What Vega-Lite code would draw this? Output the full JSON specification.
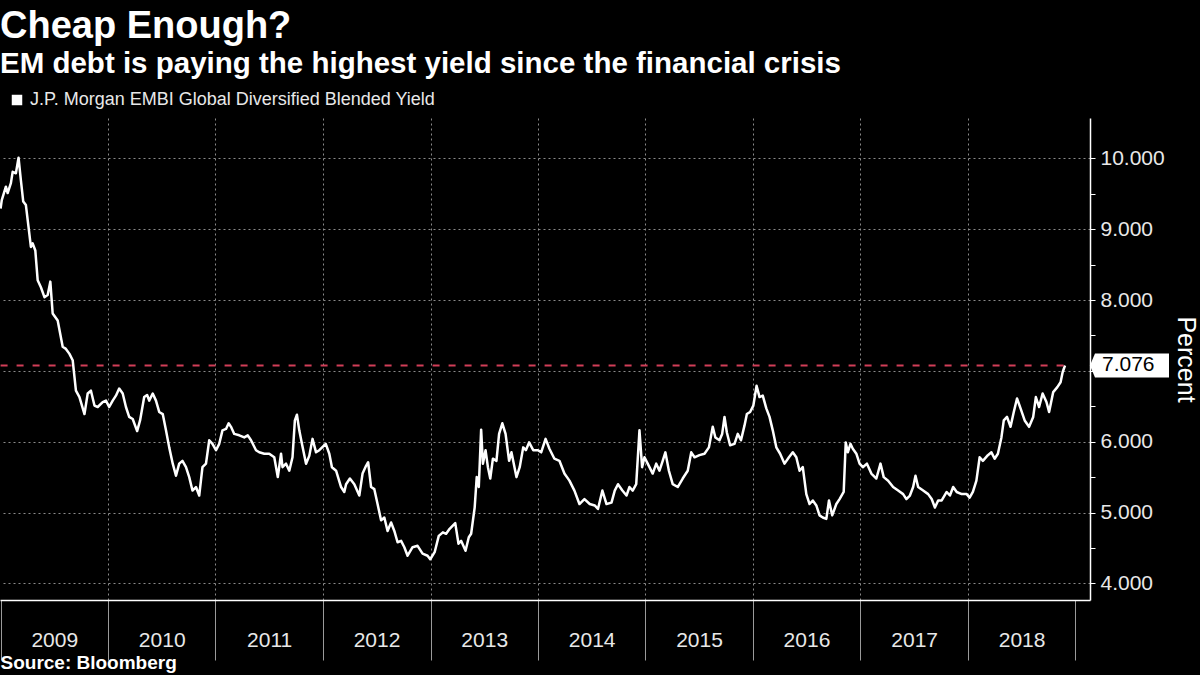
{
  "$schema": "https://vega.github.io/schema/vega-lite/v6.json",
  "width": 1090,
  "height": 482,
  "autosize": "none",
  "padding": {"left": 0, "top": 118, "right": 110, "bottom": 75},
  "background": "#000000",
  "config": {"view": {"stroke": null}, "font": "Liberation Sans"},
  "title": {
    "text": "Cheap Enough?",
    "subtitle": "EM debt is paying the highest yield since the financial crisis",
    "anchor": "start",
    "frame": "group",
    "color": "#ffffff",
    "font": "Liberation Sans",
    "fontSize": 38,
    "fontWeight": "bold",
    "subtitleColor": "#ffffff",
    "subtitleFont": "Liberation Sans",
    "subtitleFontSize": 29.5,
    "subtitleFontWeight": "bold",
    "subtitlePadding": 4,
    "offset": 13
  },
  "datasets": {
    "yield": [
      {"d": "2009-01-01", "v": 9.29}, {"d": "2009-01-05", "v": 9.41}, {"d": "2009-01-19", "v": 9.60}, {"d": "2009-01-25", "v": 9.51},
      {"d": "2009-02-05", "v": 9.65}, {"d": "2009-02-11", "v": 9.81}, {"d": "2009-02-22", "v": 9.79}, {"d": "2009-03-03", "v": 10.01},
      {"d": "2009-03-11", "v": 9.69}, {"d": "2009-03-19", "v": 9.39}, {"d": "2009-03-28", "v": 9.34}, {"d": "2009-04-06", "v": 9.03},
      {"d": "2009-04-14", "v": 8.75}, {"d": "2009-04-20", "v": 8.80}, {"d": "2009-04-29", "v": 8.70}, {"d": "2009-05-07", "v": 8.28},
      {"d": "2009-05-18", "v": 8.18}, {"d": "2009-05-30", "v": 8.04}, {"d": "2009-06-10", "v": 8.07}, {"d": "2009-06-19", "v": 8.26},
      {"d": "2009-06-27", "v": 7.81}, {"d": "2009-07-14", "v": 7.71}, {"d": "2009-07-31", "v": 7.34}, {"d": "2009-08-11", "v": 7.31},
      {"d": "2009-08-23", "v": 7.24}, {"d": "2009-09-03", "v": 7.15}, {"d": "2009-09-14", "v": 6.72}, {"d": "2009-09-26", "v": 6.63},
      {"d": "2009-10-13", "v": 6.39}, {"d": "2009-10-24", "v": 6.68}, {"d": "2009-11-04", "v": 6.72}, {"d": "2009-11-16", "v": 6.51},
      {"d": "2009-11-27", "v": 6.49}, {"d": "2009-12-14", "v": 6.56}, {"d": "2009-12-25", "v": 6.58},
      {"d": "2010-01-05", "v": 6.49}, {"d": "2010-01-17", "v": 6.58}, {"d": "2010-01-28", "v": 6.65}, {"d": "2010-02-08", "v": 6.75},
      {"d": "2010-02-20", "v": 6.68}, {"d": "2010-03-03", "v": 6.49}, {"d": "2010-03-14", "v": 6.35}, {"d": "2010-03-26", "v": 6.32},
      {"d": "2010-04-10", "v": 6.15}, {"d": "2010-04-20", "v": 6.30}, {"d": "2010-05-04", "v": 6.63}, {"d": "2010-05-14", "v": 6.66},
      {"d": "2010-05-21", "v": 6.58}, {"d": "2010-06-02", "v": 6.68}, {"d": "2010-06-13", "v": 6.58}, {"d": "2010-06-24", "v": 6.42},
      {"d": "2010-07-06", "v": 6.39}, {"d": "2010-07-17", "v": 6.16}, {"d": "2010-07-28", "v": 5.92}, {"d": "2010-08-09", "v": 5.69},
      {"d": "2010-08-20", "v": 5.52}, {"d": "2010-08-31", "v": 5.69}, {"d": "2010-09-11", "v": 5.73}, {"d": "2010-09-23", "v": 5.64},
      {"d": "2010-10-04", "v": 5.50}, {"d": "2010-10-15", "v": 5.31}, {"d": "2010-10-27", "v": 5.36}, {"d": "2010-11-07", "v": 5.24},
      {"d": "2010-11-18", "v": 5.64}, {"d": "2010-11-30", "v": 5.69}, {"d": "2010-12-11", "v": 6.02}, {"d": "2010-12-22", "v": 5.97},
      {"d": "2011-01-03", "v": 5.88}, {"d": "2011-01-14", "v": 5.97}, {"d": "2011-01-25", "v": 6.16}, {"d": "2011-02-06", "v": 6.18},
      {"d": "2011-02-15", "v": 6.26}, {"d": "2011-02-23", "v": 6.21}, {"d": "2011-03-06", "v": 6.11}, {"d": "2011-03-23", "v": 6.09},
      {"d": "2011-04-09", "v": 6.06}, {"d": "2011-04-21", "v": 6.09}, {"d": "2011-05-02", "v": 6.02}, {"d": "2011-05-19", "v": 5.88},
      {"d": "2011-05-30", "v": 5.85}, {"d": "2011-06-16", "v": 5.83}, {"d": "2011-07-03", "v": 5.83}, {"d": "2011-07-20", "v": 5.78},
      {"d": "2011-08-01", "v": 5.50}, {"d": "2011-08-12", "v": 5.83}, {"d": "2011-08-17", "v": 5.64}, {"d": "2011-08-29", "v": 5.69},
      {"d": "2011-09-09", "v": 5.59}, {"d": "2011-09-20", "v": 5.78}, {"d": "2011-09-28", "v": 6.30}, {"d": "2011-10-05", "v": 6.38},
      {"d": "2011-10-13", "v": 6.16}, {"d": "2011-10-22", "v": 5.97}, {"d": "2011-11-05", "v": 5.69}, {"d": "2011-11-16", "v": 5.80},
      {"d": "2011-11-27", "v": 6.04}, {"d": "2011-12-09", "v": 5.85}, {"d": "2011-12-20", "v": 5.88},
      {"d": "2012-01-11", "v": 5.97}, {"d": "2012-01-23", "v": 5.83}, {"d": "2012-02-01", "v": 5.64}, {"d": "2012-02-15", "v": 5.59},
      {"d": "2012-03-03", "v": 5.36}, {"d": "2012-03-14", "v": 5.29}, {"d": "2012-03-20", "v": 5.40}, {"d": "2012-04-02", "v": 5.48},
      {"d": "2012-04-17", "v": 5.40}, {"d": "2012-05-04", "v": 5.24}, {"d": "2012-05-15", "v": 5.55}, {"d": "2012-05-27", "v": 5.66},
      {"d": "2012-06-03", "v": 5.71}, {"d": "2012-06-13", "v": 5.36}, {"d": "2012-06-24", "v": 5.33}, {"d": "2012-07-05", "v": 5.12},
      {"d": "2012-07-17", "v": 4.89}, {"d": "2012-07-28", "v": 4.93}, {"d": "2012-08-08", "v": 4.74}, {"d": "2012-08-20", "v": 4.86},
      {"d": "2012-08-31", "v": 4.74}, {"d": "2012-09-11", "v": 4.58}, {"d": "2012-09-23", "v": 4.60}, {"d": "2012-10-04", "v": 4.51},
      {"d": "2012-10-15", "v": 4.39}, {"d": "2012-11-01", "v": 4.51}, {"d": "2012-11-18", "v": 4.53}, {"d": "2012-12-05", "v": 4.42},
      {"d": "2012-12-22", "v": 4.39}, {"d": "2012-12-31", "v": 4.34},
      {"d": "2013-01-15", "v": 4.44}, {"d": "2013-01-29", "v": 4.67}, {"d": "2013-02-12", "v": 4.72}, {"d": "2013-02-23", "v": 4.70},
      {"d": "2013-03-07", "v": 4.77}, {"d": "2013-03-26", "v": 4.85}, {"d": "2013-04-06", "v": 4.56}, {"d": "2013-04-15", "v": 4.60},
      {"d": "2013-04-30", "v": 4.46}, {"d": "2013-05-11", "v": 4.65}, {"d": "2013-05-19", "v": 4.70}, {"d": "2013-05-31", "v": 5.07},
      {"d": "2013-06-07", "v": 5.50}, {"d": "2013-06-14", "v": 5.36}, {"d": "2013-06-22", "v": 6.17}, {"d": "2013-06-28", "v": 5.69},
      {"d": "2013-07-07", "v": 5.88}, {"d": "2013-07-15", "v": 5.64}, {"d": "2013-07-23", "v": 5.48}, {"d": "2013-08-01", "v": 5.76},
      {"d": "2013-08-13", "v": 5.73}, {"d": "2013-08-22", "v": 6.11}, {"d": "2013-09-02", "v": 6.26}, {"d": "2013-09-13", "v": 6.11},
      {"d": "2013-09-25", "v": 5.73}, {"d": "2013-10-03", "v": 5.85}, {"d": "2013-10-20", "v": 5.50}, {"d": "2013-10-31", "v": 5.64},
      {"d": "2013-11-12", "v": 5.92}, {"d": "2013-11-21", "v": 5.88}, {"d": "2013-12-02", "v": 5.99}, {"d": "2013-12-16", "v": 5.88},
      {"d": "2014-01-01", "v": 5.88}, {"d": "2014-01-12", "v": 5.85}, {"d": "2014-01-27", "v": 6.04}, {"d": "2014-02-09", "v": 5.90},
      {"d": "2014-02-26", "v": 5.76}, {"d": "2014-03-15", "v": 5.73}, {"d": "2014-04-01", "v": 5.55}, {"d": "2014-04-18", "v": 5.45},
      {"d": "2014-05-05", "v": 5.31}, {"d": "2014-05-22", "v": 5.12}, {"d": "2014-06-08", "v": 5.19}, {"d": "2014-06-26", "v": 5.12},
      {"d": "2014-07-13", "v": 5.10}, {"d": "2014-07-24", "v": 5.05}, {"d": "2014-08-08", "v": 5.31}, {"d": "2014-08-22", "v": 5.12},
      {"d": "2014-09-08", "v": 5.14}, {"d": "2014-09-19", "v": 5.31}, {"d": "2014-09-30", "v": 5.40}, {"d": "2014-10-15", "v": 5.31},
      {"d": "2014-10-29", "v": 5.24}, {"d": "2014-11-08", "v": 5.36}, {"d": "2014-11-19", "v": 5.31}, {"d": "2014-12-01", "v": 5.40},
      {"d": "2014-12-12", "v": 6.16}, {"d": "2014-12-21", "v": 5.64}, {"d": "2014-12-29", "v": 5.78},
      {"d": "2015-01-09", "v": 5.69}, {"d": "2015-01-26", "v": 5.55}, {"d": "2015-02-07", "v": 5.69}, {"d": "2015-02-18", "v": 5.59},
      {"d": "2015-03-01", "v": 5.73}, {"d": "2015-03-10", "v": 5.85}, {"d": "2015-03-22", "v": 5.59}, {"d": "2015-04-04", "v": 5.40},
      {"d": "2015-04-21", "v": 5.36}, {"d": "2015-05-08", "v": 5.48}, {"d": "2015-05-25", "v": 5.59}, {"d": "2015-06-06", "v": 5.85},
      {"d": "2015-06-17", "v": 5.78}, {"d": "2015-07-04", "v": 5.81}, {"d": "2015-07-21", "v": 5.83}, {"d": "2015-08-05", "v": 5.92},
      {"d": "2015-08-18", "v": 6.21}, {"d": "2015-08-27", "v": 6.06}, {"d": "2015-09-10", "v": 6.02}, {"d": "2015-09-19", "v": 6.11},
      {"d": "2015-09-27", "v": 6.35}, {"d": "2015-10-05", "v": 6.13}, {"d": "2015-10-16", "v": 5.95}, {"d": "2015-10-31", "v": 5.97},
      {"d": "2015-11-11", "v": 6.11}, {"d": "2015-11-22", "v": 6.02}, {"d": "2015-12-04", "v": 6.23}, {"d": "2015-12-12", "v": 6.39},
      {"d": "2015-12-23", "v": 6.42},
      {"d": "2016-01-03", "v": 6.51}, {"d": "2016-01-14", "v": 6.79}, {"d": "2016-01-24", "v": 6.63}, {"d": "2016-02-04", "v": 6.65},
      {"d": "2016-02-16", "v": 6.47}, {"d": "2016-02-27", "v": 6.35}, {"d": "2016-03-09", "v": 6.16}, {"d": "2016-03-21", "v": 5.92},
      {"d": "2016-04-03", "v": 5.83}, {"d": "2016-04-18", "v": 5.69}, {"d": "2016-05-03", "v": 5.78}, {"d": "2016-05-16", "v": 5.85},
      {"d": "2016-05-28", "v": 5.78}, {"d": "2016-06-08", "v": 5.59}, {"d": "2016-06-19", "v": 5.64}, {"d": "2016-07-01", "v": 5.26},
      {"d": "2016-07-12", "v": 5.12}, {"d": "2016-07-23", "v": 5.17}, {"d": "2016-08-04", "v": 5.10}, {"d": "2016-08-15", "v": 4.96},
      {"d": "2016-08-26", "v": 4.93}, {"d": "2016-09-07", "v": 4.91}, {"d": "2016-09-16", "v": 5.17}, {"d": "2016-09-27", "v": 4.96},
      {"d": "2016-10-11", "v": 5.12}, {"d": "2016-10-22", "v": 5.19}, {"d": "2016-11-05", "v": 5.29}, {"d": "2016-11-12", "v": 5.99},
      {"d": "2016-11-19", "v": 5.85}, {"d": "2016-11-28", "v": 5.97}, {"d": "2016-12-06", "v": 5.90}, {"d": "2016-12-18", "v": 5.83},
      {"d": "2016-12-29", "v": 5.69},
      {"d": "2017-01-09", "v": 5.64}, {"d": "2017-01-23", "v": 5.69}, {"d": "2017-02-07", "v": 5.55}, {"d": "2017-02-24", "v": 5.48},
      {"d": "2017-03-10", "v": 5.69}, {"d": "2017-03-21", "v": 5.50}, {"d": "2017-04-05", "v": 5.45}, {"d": "2017-04-22", "v": 5.36},
      {"d": "2017-05-09", "v": 5.31}, {"d": "2017-05-26", "v": 5.26}, {"d": "2017-06-06", "v": 5.19}, {"d": "2017-06-18", "v": 5.24},
      {"d": "2017-06-29", "v": 5.36}, {"d": "2017-07-07", "v": 5.52}, {"d": "2017-07-16", "v": 5.36}, {"d": "2017-08-02", "v": 5.31},
      {"d": "2017-08-19", "v": 5.26}, {"d": "2017-08-31", "v": 5.19}, {"d": "2017-09-11", "v": 5.07}, {"d": "2017-09-22", "v": 5.17},
      {"d": "2017-10-04", "v": 5.17}, {"d": "2017-10-21", "v": 5.29}, {"d": "2017-11-01", "v": 5.24}, {"d": "2017-11-12", "v": 5.36},
      {"d": "2017-11-24", "v": 5.29}, {"d": "2017-12-11", "v": 5.26}, {"d": "2017-12-28", "v": 5.26},
      {"d": "2018-01-07", "v": 5.21}, {"d": "2018-01-18", "v": 5.29}, {"d": "2018-01-30", "v": 5.45}, {"d": "2018-02-10", "v": 5.78},
      {"d": "2018-02-21", "v": 5.73}, {"d": "2018-03-10", "v": 5.81}, {"d": "2018-03-22", "v": 5.85}, {"d": "2018-04-02", "v": 5.76},
      {"d": "2018-04-13", "v": 5.83}, {"d": "2018-04-25", "v": 6.06}, {"d": "2018-05-03", "v": 6.30}, {"d": "2018-05-14", "v": 6.35},
      {"d": "2018-05-26", "v": 6.21}, {"d": "2018-06-06", "v": 6.42}, {"d": "2018-06-17", "v": 6.61}, {"d": "2018-06-29", "v": 6.47},
      {"d": "2018-07-13", "v": 6.30}, {"d": "2018-07-28", "v": 6.21}, {"d": "2018-08-11", "v": 6.35}, {"d": "2018-08-20", "v": 6.63},
      {"d": "2018-08-31", "v": 6.49}, {"d": "2018-09-12", "v": 6.68}, {"d": "2018-09-25", "v": 6.56}, {"d": "2018-10-04", "v": 6.42},
      {"d": "2018-10-18", "v": 6.70}, {"d": "2018-11-01", "v": 6.77}, {"d": "2018-11-12", "v": 6.84}, {"d": "2018-11-19", "v": 6.98},
      {"d": "2018-11-27", "v": 7.076}
    ],
    "ref": [{"start": "2009-01-01", "end": "2018-11-27", "level": 7.076}]
  },
  "layer": [
    {
      "data": {"name": "yield"},
      "mark": {"type": "line", "color": "#ffffff", "strokeWidth": 2.5, "strokeJoin": "round"},
      "encoding": {
        "x": {
          "field": "d", "type": "temporal",
          "scale": {"domain": ["2008-12-30", "2019-02-20"]},
          "axis": {
            "values": [{"year": 2009, "month": 1, "date": 1}, {"year": 2010, "month": 1, "date": 1}, {"year": 2011, "month": 1, "date": 1}, {"year": 2012, "month": 1, "date": 1}, {"year": 2013, "month": 1, "date": 1}, {"year": 2014, "month": 1, "date": 1}, {"year": 2015, "month": 1, "date": 1}, {"year": 2016, "month": 1, "date": 1}, {"year": 2017, "month": 1, "date": 1}, {"year": 2018, "month": 1, "date": 1}, {"year": 2019, "month": 1, "date": 1}],
            "format": "%Y",
            "labelExpr": "year(datum.value) >= 2019 ? '' : datum.label",
            "labelOffset": 53.7,
            "labelFlush": false,
            "labelOverlap": false,
            "labelColor": "#e8e8e8",
            "labelFontSize": 21,
            "labelBaseline": "top",
            "labelPadding": -31,
            "tickSize": 60,
            "tickColor": "#9a9a9a",
            "tickWidth": 1,
            "domainColor": "#ffffff",
            "domainWidth": 1.5,
            "grid": true,
            "gridColor": "#8a8a8a",
            "gridDash": [2, 3],
            "gridWidth": 1,
            "gridOpacity": {"condition": {"test": "year(datum.value) == 2009 || year(datum.value) == 2019", "value": 0}, "value": 1},
            "title": "Source: Bloomberg",
            "titleAnchor": "start",
            "titleAlign": "left",
            "titleColor": "#ffffff",
            "titleFontSize": 19,
            "titleFontWeight": "bold",
            "titlePadding": -7
          }
        },
        "y": {
          "field": "v", "type": "quantitative",
          "scale": {"domain": [3.765, 10.57], "nice": false, "zero": false},
          "axis": {
            "orient": "right",
            "values": [4, 4.5, 5, 5.5, 6, 6.5, 7, 7.5, 8, 8.5, 9, 9.5, 10],
            "format": ".3f",
            "labelExpr": "datum.value % 1 != 0 || datum.value == 7 ? '' : datum.label",
            "labelColor": "#e8e8e8",
            "labelFontSize": 21,
            "labelPadding": 5,
            "tickSize": 5,
            "tickColor": "#ffffff",
            "domainColor": "#ffffff",
            "domainWidth": 1.5,
            "grid": true,
            "gridColor": "#8a8a8a",
            "gridDash": [2, 3],
            "gridWidth": 1,
            "gridOpacity": {"condition": {"test": "datum.value % 1 != 0", "value": 0}, "value": 1},
            "title": "Percent",
            "titleColor": "#ffffff",
            "titleFontSize": 25,
            "titleFontWeight": "normal",
            "titleAngle": 90,
            "titlePadding": 8
          }
        },
        "color": {
          "datum": "J.P. Morgan EMBI Global Diversified Blended Yield",
          "type": "nominal",
          "scale": {"range": ["#ffffff"]},
          "legend": {
            "orient": "none",
            "legendX": 8,
            "legendY": -27,
            "title": null,
            "padding": 0,
            "symbolType": "square",
            "symbolSize": 110,
            "symbolFillColor": "#ffffff",
            "symbolStrokeColor": "#ffffff",
            "symbolStrokeWidth": 0,
            "labelColor": "#e8e8e8",
            "labelFontSize": 18,
            "labelLimit": 0,
            "labelOffset": 4
          }
        }
      }
    },
    {
      "data": {"name": "ref"},
      "mark": {"type": "rule", "color": "#d23e58", "strokeDash": [7, 9], "strokeWidth": 2},
      "encoding": {
        "x": {"field": "start", "type": "temporal"},
        "x2": {"field": "end"},
        "y": {"field": "level", "type": "quantitative"}
      }
    },
    {
      "data": {"name": "ref"},
      "mark": {"type": "point", "shape": "M 2.5 0 L 3.0 -1.2 L 10.4 -1.2 L 10.4 1.2 L 3.0 1.2 Z", "size": 400, "filled": true, "color": "#ffffff", "opacity": 1, "strokeWidth": 0},
      "encoding": {
        "x": {"field": "end", "type": "temporal"},
        "y": {"field": "level", "type": "quantitative"}
      }
    },
    {
      "data": {"name": "ref"},
      "mark": {"type": "text", "align": "left", "baseline": "middle", "dx": 37, "fontSize": 21, "color": "#000000"},
      "encoding": {
        "x": {"field": "end", "type": "temporal"},
        "y": {"field": "level", "type": "quantitative"},
        "text": {"field": "level", "type": "quantitative", "format": ".3f"}
      }
    }
  ]
}
